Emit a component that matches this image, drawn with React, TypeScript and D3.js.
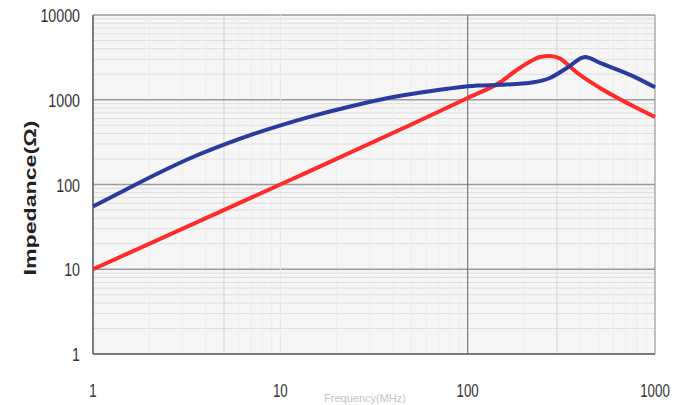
import React from "react";
import * as d3 from "d3";

const blueFreq = [1, 1.45, 2.2, 3.3, 5, 7.5, 11, 15, 23, 34, 51, 78, 113, 150, 225, 275, 339, 423, 509, 763, 1000];
const blueZ = [55, 84, 134, 204, 295, 407, 531, 646, 822, 1000, 1175, 1349, 1470, 1500, 1610, 1806, 2370, 3195, 2720, 1900, 1400];

const redFreq = [1, 10, 50, 100, 150, 183, 223, 243, 275, 311, 339, 374, 509, 763, 1000];
const redZ = [10, 100, 510, 1050, 1620, 2244, 2944, 3193, 3283, 3069, 2642, 2184, 1377, 844, 626];

const xTicks = [1, 10, 100, 1000];
const xTickLabels = ["1", "10", "100", "1000"];
const yTicks = [1, 10, 100, 1000, 10000];
const yTickLabels = ["1", "10", "100", "1000", "10000"];
const yTitle = "Impedance(Ω)";
const xTitle = "Frequency(MHz)";

const W = 680;
const H = 405;
const L = 93;
const R = 655;
const T = 15;
const B = 354;

export default function App() {
  const x = d3.scaleLog().domain([1, 1000]).range([L, R]);
  const y = d3.scaleLog().domain([1, 10000]).range([B, T]);

  const line = d3
    .line<[number, number]>()
    .x((d) => x(d[0]))
    .y((d) => y(d[1]))
    .curve(d3.curveMonotoneX);

  const blueData = blueFreq.map((f, i) => [f, blueZ[i]] as [number, number]);
  const redData = redFreq.map((f, i) => [f, redZ[i]] as [number, number]);

  const minorY: number[] = [];
  for (let dec = 1; dec < 10000; dec *= 10) {
    for (let m = 2; m <= 9; m++) minorY.push(dec * m);
  }
  const minorX: number[] = [];
  for (let dec = 1; dec < 1000; dec *= 10) {
    for (let m = 2; m <= 9; m++) minorX.push(dec * m);
  }

  const font = "'Liberation Sans', Arial, sans-serif";

  return (
    <svg
      width={W}
      height={H}
      style={{ position: "absolute", left: 0, top: 0, background: "#fff" }}
    >
      <rect x={L} y={T} width={R - L} height={B - T} fill="#f6f6f6" />
      {minorY.map((v) => (
        <line key={"my" + v} x1={L} x2={R} y1={y(v)} y2={y(v)} stroke="#dedede" strokeWidth={1} />
      ))}
      {minorX.map((v) => (
        <line
          key={"mx" + v}
          x1={x(v)}
          x2={x(v)}
          y1={T}
          y2={B}
          stroke={v === 5 || v === 300 ? "#d4d4d4" : "#ededed"}
          strokeWidth={1}
        />
      ))}
      {yTicks.map((v) => (
        <line key={"gy" + v} x1={L} x2={R} y1={y(v)} y2={y(v)} stroke="#9a9a9a" strokeWidth={1.5} />
      ))}
      {xTicks.map((v) => (
        <line
          key={"gx" + v}
          x1={x(v)}
          x2={x(v)}
          y1={T}
          y2={B}
          stroke={v === 100 ? "#777" : v === 10 ? "#e6e6e6" : "#9a9a9a"}
          strokeWidth={v === 10 ? 1 : 1.2}
        />
      ))}
      <line x1={L} x2={L} y1={T} y2={B} stroke="#666" strokeWidth={1.5} />
      <line x1={L} x2={R} y1={B} y2={B} stroke="#666" strokeWidth={1.5} />

      <path d={line(redData) || ""} fill="none" stroke="#ff2a2a" strokeWidth={4} strokeLinejoin="round" />
      <path d={line(blueData) || ""} fill="none" stroke="#2b3a9e" strokeWidth={4} strokeLinejoin="round" />

      {yTicks.map((v, i) => (
        <text
          key={"yl" + v}
          transform={`translate(80, ${y(v) + 7}) scale(0.75, 1)`}
          textAnchor="end"
          fontFamily={font}
          fontSize={19}
          fill="#333"
        >
          {yTickLabels[i]}
        </text>
      ))}
      {xTicks.map((v, i) => (
        <text
          key={"xl" + v}
          transform={`translate(${x(v)}, 397) scale(0.7, 1)`}
          textAnchor="middle"
          fontFamily={font}
          fontSize={19}
          fill="#333"
        >
          {xTickLabels[i]}
        </text>
      ))}
      <text
        transform={`translate(36, 198) rotate(-90)`}
        textAnchor="middle"
        fontFamily={font}
        fontWeight="bold"
        fontSize={16}
        textLength={155}
        lengthAdjust="spacingAndGlyphs"
        fill="#222"
      >
        {yTitle}
      </text>
      <text
        x={365}
        y={402}
        textAnchor="middle"
        fontFamily={font}
        fontSize={11}
        fill="#c4c4c4"
      >
        {xTitle}
      </text>
    </svg>
  );
}
